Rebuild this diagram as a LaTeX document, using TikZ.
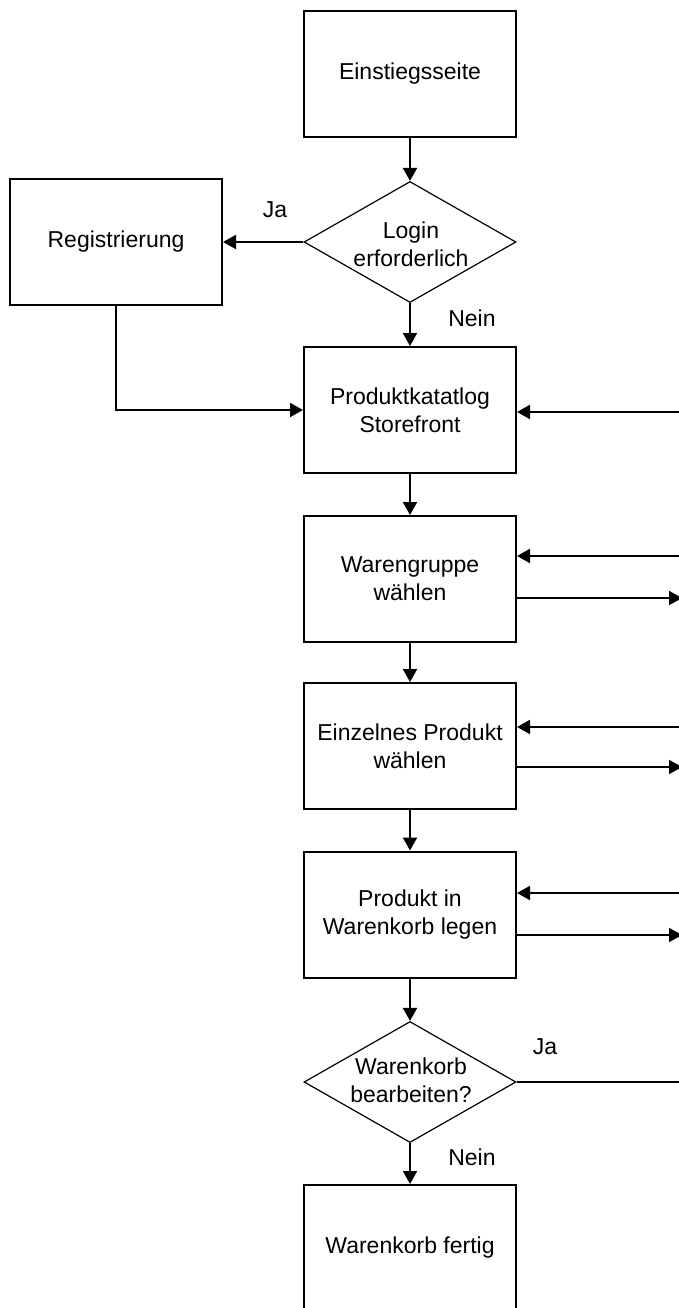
\documentclass[tikz,border=0pt]{standalone}
\usepackage{fontspec}
\setmainfont{Liberation Sans}
\usetikzlibrary{arrows.meta,shapes.geometric}
\begin{document}
\begin{tikzpicture}[x=1pt,y=-1pt,
  every node/.style={font=\fontsize{23}{28}\selectfont},
  stepbox/.style={draw,line width=2pt,rectangle,minimum width=212pt,minimum height=126pt,inner sep=0pt,align=center},
  decision/.style={draw,line width=1.2pt,diamond,minimum width=212pt,minimum height=121pt,inner sep=0pt},
  txt/.style={align=center,inner sep=0pt},
  flow/.style={line width=2pt},
  arr/.style={flow,-{Triangle[length=13pt,width=14pt]}}]
  \useasboundingbox (0,0) rectangle (679,1308);
  \clip (0,0) rectangle (679,1308);

  % main column
  \node[stepbox] (start) at (410,74) {Einstiegsseite};
  \node[decision] (login) at (410,242) {};
  \node[txt] (logintxt) at (411,244) {Login\\erforderlich};
  \node[stepbox] (reg) at (116,242) {Registrierung};
  \node[stepbox] (kat) at (410,410) {Produktkatatlog\\Storefront};
  \node[stepbox] (wg) at (410,579) {Warengruppe\\w\"ahlen};
  \node[stepbox] (ep) at (410,746) {Einzelnes Produkt\\w\"ahlen};
  \node[stepbox] (wk) at (410,914.5) {Produkt in\\Warenkorb legen};
  \node[decision] (edit) at (410,1082) {};
  \node[txt] (edittxt) at (411,1080) {Warenkorb\\bearbeiten?};
  \node[stepbox] (done) at (410,1248) {Warenkorb fertig};

  % branch labels
  \node (ja1) at (275,210) {Ja};
  \node (nein1) at (472,318) {Nein};
  \node (ja2) at (545,1047) {Ja};
  \node (nein2) at (472,1157) {Nein};

  % vertical flow
  \draw[arr] (start) -- (login);
  \draw[arr] (login) -- (kat);
  \draw[arr] (kat) -- (wg);
  \draw[arr] (wg) -- (ep);
  \draw[arr] (ep) -- (wk);
  \draw[arr] (wk) -- (edit);
  \draw[arr] (edit) -- (done);

  % registration branch
  \draw[arr] (login.west) -- (reg.east);
  \draw[arr] (reg.south) |- (kat.west);

  % links to the right margin
  \coordinate (rk) at (679,412);
  \coordinate (rwgin) at (679,556);
  \coordinate (rwgout) at (682,598);
  \coordinate (repin) at (679,727);
  \coordinate (repout) at (682,767);
  \coordinate (rwkin) at (679,893);
  \coordinate (rwkout) at (682,935);
  \coordinate (redit) at (679,1082);

  \draw[arr] (rk) -- (rk -| kat.east);
  \draw[arr] (rwgin) -- (rwgin -| wg.east);
  \draw[arr] (rwgout -| wg.east) -- (rwgout);
  \draw[arr] (repin) -- (repin -| ep.east);
  \draw[arr] (repout -| ep.east) -- (repout);
  \draw[arr] (rwkin) -- (rwkin -| wk.east);
  \draw[arr] (rwkout -| wk.east) -- (rwkout);
  \draw[flow] (edit.east) -- (redit);
\end{tikzpicture}
\end{document}
